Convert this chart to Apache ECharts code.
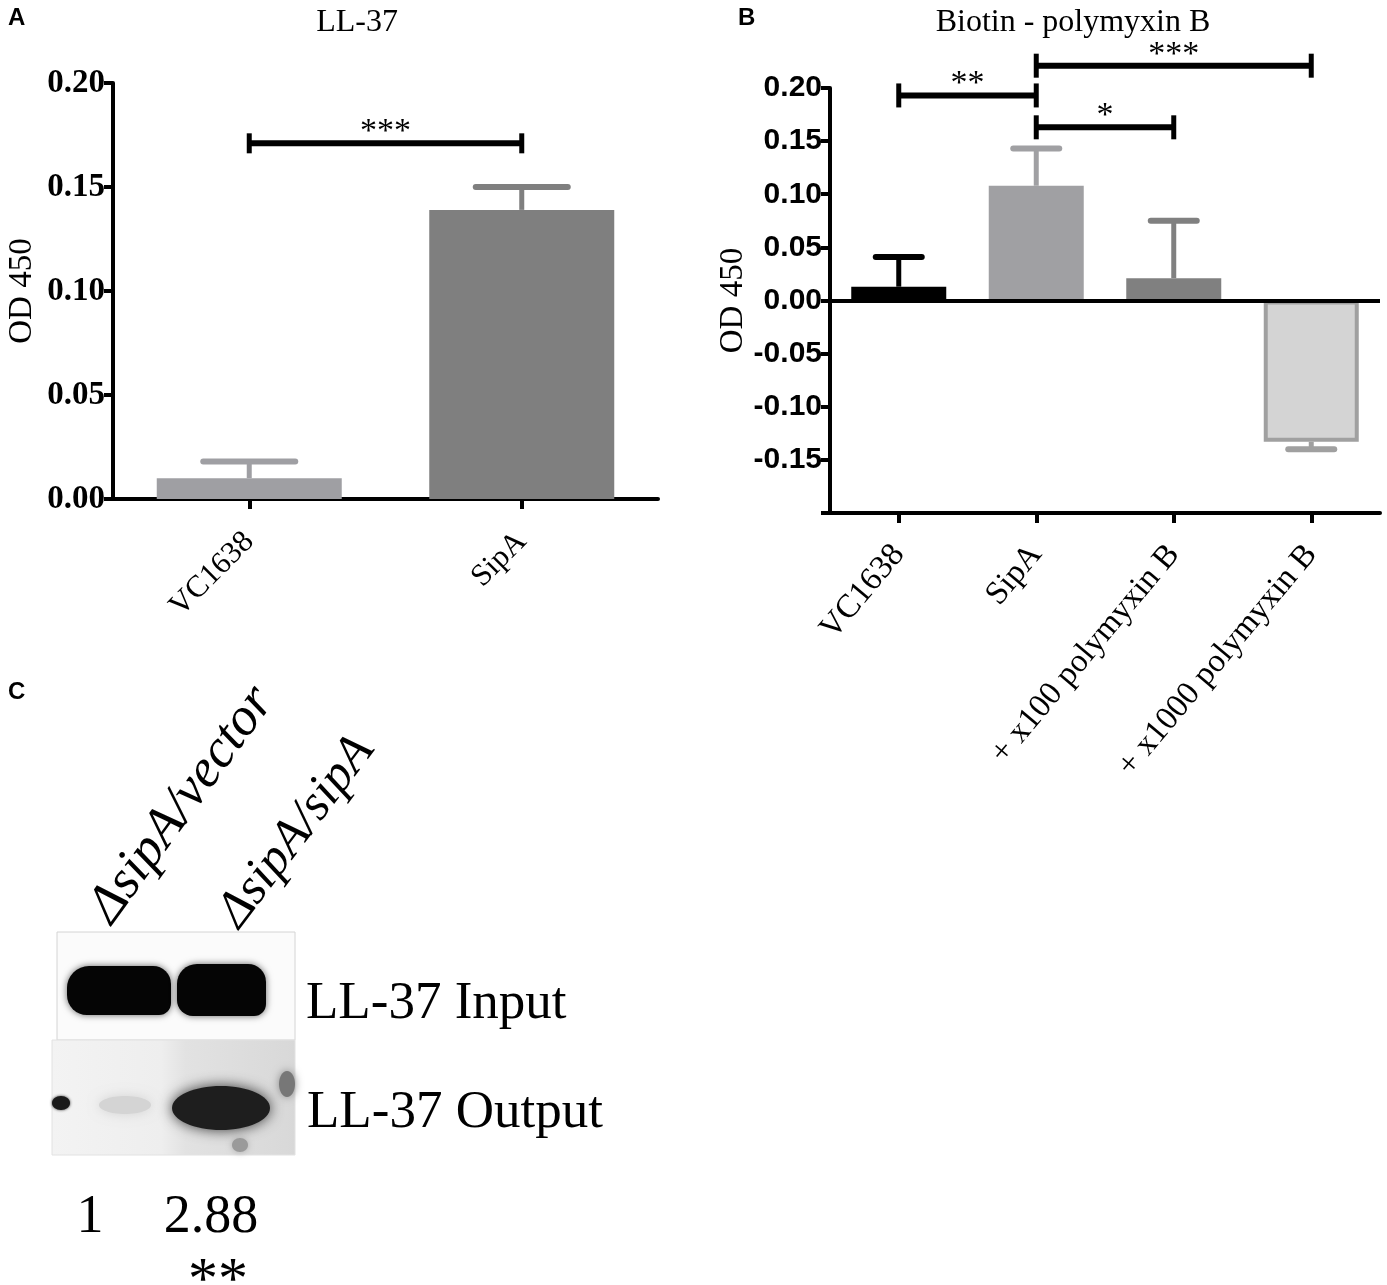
<!DOCTYPE html>
<html lang="en">
<head>
    <meta charset="UTF-8">
    <title>LL-37 binding</title>
    <style>
        html, body {
            margin: 0;
            background: #fff;
        }
        #main {
            width: 1387px;
            height: 1285px;
        }
    </style>
    <script src="https://cdn.jsdelivr.net/npm/echarts@6/dist/echarts.min.js"></script>
</head>
<body>
    <div id="main"></div>
    <script>
        // panel A
        const catsA = ['VC1638', 'SipA']
        const meansA = [0.010, 0.139]
        const errsA = [0.008, 0.011]
        const sigA = [[0, 1, 0.171, '***']]

        // panel B
        const catsB = ['VC1638', 'SipA', '+ x100 polymyxin B', '+ x1000 polymyxin B']
        const meansB = [0.013, 0.108, 0.021, -0.133]
        const errsB = [0.028, 0.035, 0.054, 0.007]
        const sigB = [[0, 1, 0.193, '**'], [1, 2, 0.163, '*'], [1, 3, 0.221, '***']]

        // panel C
        const laneNames = ['ΔsipA/vector', 'ΔsipA/sipA']
        const rowNames = ['LL-37 Input', 'LL-37 Output']
        const ratios = ['1', '2.88']
        const ratioSig = '**'

        const SERIF = '"Liberation Serif", "Times New Roman", serif'
        const SANS = '"Liberation Sans", Arial, sans-serif'
        const fillA = ['#9f9fa3', '#7f7f7f']
        const fillB = ['#000000', '#a0a0a3', '#808080', '#d4d4d4']
        const errColB = ['#000000', '#a0a0a3', '#808080', '#a0a0a0']

        const chart = echarts.init(document.getElementById('main'))

        function errorBars (errs, cols, capHalf) {
            return function (params, api) {
                const i = params.dataIndex
                const m = api.value(1)
                const tip = m < 0 ? m - errs[i] : m + errs[i]
                const p0 = api.coord([i, m])
                const p1 = api.coord([i, tip])
                const st = { stroke: cols[i], lineWidth: 6, lineCap: 'round' }
                return {
                    type: 'group',
                    children: [
                        { type: 'line', shape: { x1: p0[0], y1: p0[1], x2: p1[0], y2: p1[1] }, style: { stroke: cols[i], lineWidth: 5 } },
                        { type: 'line', shape: { x1: p1[0] - capHalf, y1: p1[1], x2: p1[0] + capHalf, y2: p1[1] }, style: st }
                    ]
                }
            }
        }

        function sigBars (rows, tickHalf) {
            return function (params, api) {
                const r = rows[params.dataIndex]
                const a = api.coord([r[0], r[2]])
                const b = api.coord([r[1], r[2]])
                const tk = { stroke: '#000', lineWidth: 5 }
                return {
                    type: 'group',
                    children: [
                        { type: 'line', shape: { x1: a[0], y1: a[1], x2: b[0], y2: a[1] }, style: { stroke: '#000', lineWidth: 6 } },
                        { type: 'line', shape: { x1: a[0], y1: a[1] - tickHalf, x2: a[0], y2: a[1] + tickHalf }, style: tk },
                        { type: 'line', shape: { x1: b[0], y1: b[1] - tickHalf, x2: b[0], y2: b[1] + tickHalf }, style: tk },
                        {
                            type: 'text',
                            style: {
                                text: r[3], x: (a[0] + b[0]) / 2, y: a[1] + 6,
                                align: 'center', verticalAlign: 'bottom',
                                font: '34px ' + SERIF, fill: '#000'
                            }
                        }
                    ]
                }
            }
        }

        const blackLine = { lineStyle: { color: '#000', width: 4 } }
        const blackTick = { show: true, length: 10, alignWithLabel: true, lineStyle: { color: '#000', width: 4 } }

        const option = {
            animation: false,
            backgroundColor: '#fff',
            title: [
                { text: 'LL-37', left: 352, top: 2, textAlign: 'center',
                  textStyle: { fontFamily: SERIF, fontWeight: 'normal', fontSize: 32, color: '#000' } },
                { text: 'Biotin - polymyxin B', left: 1068, top: 2, textAlign: 'center',
                  textStyle: { fontFamily: SERIF, fontWeight: 'normal', fontSize: 32, color: '#000' } }
            ],
            grid: [
                { left: 113, top: 83, width: 545, height: 416, outerBoundsMode: 'none' },
                { left: 830, top: 88, width: 550, height: 425, outerBoundsMode: 'none' }
            ],
            xAxis: [
                {
                    gridIndex: 0, type: 'category', data: catsA,
                    axisLine: blackLine, axisTick: blackTick,
                    axisLabel: { interval: 0, rotate: 45, margin: 38, fontFamily: SERIF, fontSize: 31, color: '#000' }
                },
                {
                    gridIndex: 1, type: 'category', data: catsB,
                    axisLine: { onZero: false, lineStyle: { color: '#000', width: 4 } }, axisTick: blackTick,
                    axisLabel: { interval: 0, rotate: 50, margin: 36, fontFamily: SERIF, fontSize: 33, color: '#000' }
                }
            ],
            yAxis: [
                {
                    gridIndex: 0, type: 'value', min: 0, max: 0.2, interval: 0.05,
                    splitLine: { show: false },
                    axisLine: { show: true, lineStyle: { color: '#000', width: 4 } },
                    axisTick: { show: true, length: 9, lineStyle: { color: '#000', width: 4 } },
                    axisLabel: { margin: 8, formatter: v => v.toFixed(2), fontFamily: SERIF, fontWeight: 'bold', fontSize: 33, color: '#000' },
                    name: 'OD 450', nameLocation: 'middle', nameGap: 74,
                    nameTextStyle: { fontFamily: SERIF, fontSize: 33, color: '#000' }
                },
                {
                    gridIndex: 1, type: 'value', min: -0.2, max: 0.2, interval: 0.05,
                    splitLine: { show: false },
                    axisLine: { show: true, lineStyle: { color: '#000', width: 4 } },
                    axisTick: { show: true, length: 9, lineStyle: { color: '#000', width: 4 } },
                    axisLabel: {
                        margin: 8, formatter: v => (v < -0.19 ? '' : v.toFixed(2)),
                        fontFamily: SANS, fontWeight: 'bold', fontSize: 30, color: '#000'
                    },
                    name: 'OD 450', nameLocation: 'middle', nameGap: 76,
                    nameTextStyle: { fontFamily: SERIF, fontSize: 33, color: '#000' }
                }
            ],
            series: [
                {
                    type: 'bar', xAxisIndex: 0, yAxisIndex: 0, barWidth: 185,
                    data: meansA.map((v, i) => ({ value: v, itemStyle: { color: fillA[i] } }))
                },
                {
                    type: 'custom', xAxisIndex: 0, yAxisIndex: 0, z: 1,
                    renderItem: errorBars(errsA, fillA, 46),
                    data: meansA.map((v, i) => [i, v])
                },
                {
                    type: 'custom', xAxisIndex: 0, yAxisIndex: 0, clip: false,
                    renderItem: sigBars(sigA, 10), encode: { x: [0, 1], y: 2 },
                    data: sigA.map(r => [r[0], r[1], r[2]])
                },
                {
                    type: 'bar', xAxisIndex: 1, yAxisIndex: 1, barWidth: 95,
                    data: meansB.map((v, i) => ({
                        value: v,
                        itemStyle: i === 3 ? { color: fillB[i], borderColor: '#a0a0a0', borderWidth: 4 } : { color: fillB[i] }
                    })),
                    markLine: {
                        silent: true, symbol: ['none', 'none'], label: { show: false },
                        lineStyle: { color: '#000', width: 4, type: 'solid' },
                        data: [{ yAxis: 0 }]
                    }
                },
                {
                    type: 'custom', xAxisIndex: 1, yAxisIndex: 1, z: 1,
                    renderItem: errorBars(errsB, errColB, 23),
                    data: meansB.map((v, i) => [i, v])
                },
                {
                    type: 'custom', xAxisIndex: 1, yAxisIndex: 1, clip: false,
                    renderItem: sigBars(sigB, 12), encode: { x: [0, 1], y: 2 },
                    data: sigB.map(r => [r[0], r[1], r[2]])
                }
            ],
            graphic: [
                // panel letters
                { type: 'text', left: 8, top: 6, style: { text: 'A', font: 'bold 24px ' + SANS, fill: '#000' } },
                { type: 'text', left: 738, top: 6, style: { text: 'B', font: 'bold 24px ' + SANS, fill: '#000' } },
                { type: 'text', left: 8, top: 680, style: { text: 'C', font: 'bold 24px ' + SANS, fill: '#000' } },

                // blot, input strip
                { type: 'rect', shape: { x: 57, y: 932, width: 238, height: 108 },
                  style: { fill: '#fbfbfb', stroke: '#d4d4d4', lineWidth: 1 } },
                { type: 'rect', shape: { x: 67, y: 966, width: 104, height: 49, r: [22, 18, 12, 20] },
                  style: { fill: '#050505', shadowBlur: 7, shadowColor: 'rgba(0,0,0,0.6)' } },
                { type: 'rect', shape: { x: 177, y: 964, width: 89, height: 52, r: [20, 18, 12, 16] },
                  style: { fill: '#050505', shadowBlur: 7, shadowColor: 'rgba(0,0,0,0.6)' } },

                // blot, output strip
                { type: 'rect', shape: { x: 52, y: 1040, width: 243, height: 115 },
                  style: {
                      fill: { type: 'linear', x: 0, y: 0, x2: 1, y2: 0,
                              colorStops: [{ offset: 0, color: '#f3f3f3' }, { offset: 0.45, color: '#eeeeee' }, { offset: 0.55, color: '#e2e2e2' }, { offset: 1, color: '#d8d8d8' }] },
                      stroke: '#e2e2e2', lineWidth: 1
                  } },
                { type: 'ellipse', shape: { cx: 125, cy: 1105, rx: 26, ry: 9 },
                  style: { fill: '#d4d4d4', shadowBlur: 12, shadowColor: '#d4d4d4' } },
                { type: 'ellipse', shape: { cx: 61, cy: 1103, rx: 9, ry: 7 },
                  style: { fill: '#1a1a1a', shadowBlur: 3, shadowColor: '#333' } },
                { type: 'ellipse', shape: { cx: 221, cy: 1108, rx: 49, ry: 22 },
                  style: { fill: '#1e1e1e', shadowBlur: 14, shadowColor: 'rgba(0,0,0,0.75)' } },
                { type: 'ellipse', shape: { cx: 287, cy: 1084, rx: 8, ry: 13 },
                  style: { fill: '#777', shadowBlur: 8, shadowColor: '#888' } },
                { type: 'ellipse', shape: { cx: 240, cy: 1145, rx: 8, ry: 7 },
                  style: { fill: '#9a9a9a', shadowBlur: 6, shadowColor: '#aaa' } },

                // lane labels
                { type: 'text', x: 122, y: 933, rotation: 54 * Math.PI / 180,
                  style: { text: laneNames[0], x: 0, y: 0, align: 'left', verticalAlign: 'bottom', font: 'italic 54px ' + SERIF, fill: '#000' } },
                { type: 'text', x: 249, y: 937, rotation: 53 * Math.PI / 180,
                  style: { text: laneNames[1], x: 0, y: 0, align: 'left', verticalAlign: 'bottom', font: 'italic 51px ' + SERIF, fill: '#000' } },

                // row labels
                { type: 'text', x: 306, y: 1004,
                  style: { text: rowNames[0], align: 'left', verticalAlign: 'middle', font: '53px ' + SERIF, fill: '#000' } },
                { type: 'text', x: 307, y: 1113,
                  style: { text: rowNames[1], align: 'left', verticalAlign: 'middle', font: '53px ' + SERIF, fill: '#000' } },

                // densitometry
                { type: 'text', x: 90, y: 1218,
                  style: { text: ratios[0], align: 'center', verticalAlign: 'middle', font: '54px ' + SERIF, fill: '#000' } },
                { type: 'text', x: 211, y: 1218,
                  style: { text: ratios[1], align: 'center', verticalAlign: 'middle', font: '54px ' + SERIF, fill: '#000' } },
                { type: 'text', x: 218, y: 1282,
                  style: { text: ratioSig, align: 'center', verticalAlign: 'middle', font: '60px ' + SERIF, fill: '#000' } }
            ]
        }

        chart.setOption(option)
    </script>
</body>
</html>
